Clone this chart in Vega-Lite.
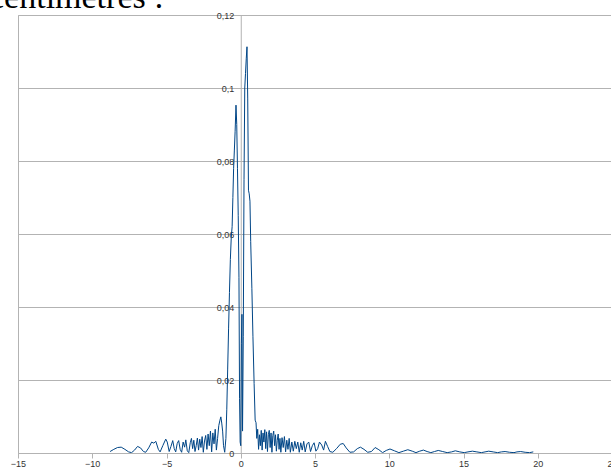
{
  "$schema": "https://vega.github.io/schema/vega-lite/v6.json",
  "width": 594,
  "height": 438,
  "autosize": {"type": "none"},
  "padding": {"left": 18, "top": 15, "right": 0, "bottom": 19},
  "background": "white",
  "title": {"text": "centimètres :", "anchor": "start", "frame": "group", "font": "Liberation Serif", "fontSize": 34, "fontWeight": "normal", "color": "#000000", "baseline": "alphabetic", "dx": -29, "dy": 31, "offset": 0},
  "config": {"view": {"stroke": "#b3b3b3", "strokeWidth": 1}},
  "data": {"values": [
    {"x": -8.80, "y": 0.0004}, {"x": -8.55, "y": 0.0010}, {"x": -8.30, "y": 0.0015}, {"x": -8.05, "y": 0.0016},
    {"x": -7.80, "y": 0.0010}, {"x": -7.55, "y": 0.0003}, {"x": -7.35, "y": 0.0001}, {"x": -7.15, "y": 0.0008},
    {"x": -6.95, "y": 0.0018}, {"x": -6.75, "y": 0.0014}, {"x": -6.55, "y": 0.0004}, {"x": -6.40, "y": 0.0002},
    {"x": -6.20, "y": 0.0014}, {"x": -6.00, "y": 0.0030}, {"x": -5.85, "y": 0.0027}, {"x": -5.72, "y": 0.0032},
    {"x": -5.55, "y": 0.0010}, {"x": -5.43, "y": 0.0003}, {"x": -5.25, "y": 0.0020}, {"x": -5.05, "y": 0.0038},
    {"x": -4.95, "y": 0.0030}, {"x": -4.82, "y": 0.0004}, {"x": -4.70, "y": 0.0018}, {"x": -4.58, "y": 0.0034},
    {"x": -4.48, "y": 0.0012}, {"x": -4.38, "y": 0.0003}, {"x": -4.28, "y": 0.0026}, {"x": -4.18, "y": 0.0034},
    {"x": -4.08, "y": 0.0010}, {"x": -3.98, "y": 0.0002}, {"x": -3.88, "y": 0.0030}, {"x": -3.78, "y": 0.0016},
    {"x": -3.70, "y": 0.0036}, {"x": -3.60, "y": 0.0006}, {"x": -3.50, "y": 0.0001}, {"x": -3.40, "y": 0.0028},
    {"x": -3.32, "y": 0.0040}, {"x": -3.24, "y": 0.0012}, {"x": -3.16, "y": 0.0035}, {"x": -3.08, "y": 0.0004},
    {"x": -3.00, "y": 0.0020}, {"x": -2.92, "y": 0.0041}, {"x": -2.84, "y": 0.0008}, {"x": -2.76, "y": 0.0038},
    {"x": -2.68, "y": 0.0015}, {"x": -2.60, "y": 0.0045}, {"x": -2.52, "y": 0.0002}, {"x": -2.44, "y": 0.0033},
    {"x": -2.36, "y": 0.0048}, {"x": -2.28, "y": 0.0010}, {"x": -2.20, "y": 0.0052}, {"x": -2.12, "y": 0.0020},
    {"x": -2.04, "y": 0.0060}, {"x": -1.96, "y": 0.0003}, {"x": -1.88, "y": 0.0055}, {"x": -1.80, "y": 0.0025},
    {"x": -1.72, "y": 0.0065}, {"x": -1.64, "y": 0.0008}, {"x": -1.56, "y": 0.0040}, {"x": -1.48, "y": 0.0075},
    {"x": -1.40, "y": 0.0090}, {"x": -1.34, "y": 0.0099}, {"x": -1.28, "y": 0.0082}, {"x": -1.22, "y": 0.0060},
    {"x": -1.16, "y": 0.0020}, {"x": -1.08, "y": 0.0002},
    {"x": -1.00, "y": 0.0040}, {"x": -0.94, "y": 0.0120}, {"x": -0.88, "y": 0.0230}, {"x": -0.82, "y": 0.0340},
    {"x": -0.76, "y": 0.0440}, {"x": -0.70, "y": 0.0530}, {"x": -0.64, "y": 0.0590}, {"x": -0.58, "y": 0.0620},
    {"x": -0.53, "y": 0.0700}, {"x": -0.48, "y": 0.0780}, {"x": -0.43, "y": 0.0830}, {"x": -0.38, "y": 0.0880},
    {"x": -0.32, "y": 0.0953}, {"x": -0.27, "y": 0.0900}, {"x": -0.22, "y": 0.0780}, {"x": -0.17, "y": 0.0650},
    {"x": -0.12, "y": 0.0480}, {"x": -0.08, "y": 0.0150}, {"x": -0.04, "y": 0.0030}, {"x": 0.00, "y": 0.0020},
    {"x": 0.04, "y": 0.0300}, {"x": 0.08, "y": 0.0380}, {"x": 0.12, "y": 0.0060}, {"x": 0.17, "y": 0.0320},
    {"x": 0.22, "y": 0.0750}, {"x": 0.27, "y": 0.1000}, {"x": 0.32, "y": 0.1040}, {"x": 0.37, "y": 0.1080},
    {"x": 0.42, "y": 0.1113}, {"x": 0.47, "y": 0.0970}, {"x": 0.52, "y": 0.0720}, {"x": 0.57, "y": 0.0710},
    {"x": 0.62, "y": 0.0690}, {"x": 0.67, "y": 0.0580}, {"x": 0.75, "y": 0.0450}, {"x": 0.82, "y": 0.0320},
    {"x": 0.90, "y": 0.0190}, {"x": 0.97, "y": 0.0090},
    {"x": 1.03, "y": 0.0083}, {"x": 1.08, "y": 0.0040}, {"x": 1.14, "y": 0.0065}, {"x": 1.20, "y": 0.0010},
    {"x": 1.26, "y": 0.0050}, {"x": 1.32, "y": 0.0020}, {"x": 1.38, "y": 0.0062}, {"x": 1.44, "y": 0.0008},
    {"x": 1.50, "y": 0.0055}, {"x": 1.56, "y": 0.0030}, {"x": 1.62, "y": 0.0064}, {"x": 1.68, "y": 0.0012},
    {"x": 1.74, "y": 0.0058}, {"x": 1.80, "y": 0.0004}, {"x": 1.86, "y": 0.0050}, {"x": 1.92, "y": 0.0062},
    {"x": 1.98, "y": 0.0015}, {"x": 2.04, "y": 0.0055}, {"x": 2.10, "y": 0.0002}, {"x": 2.16, "y": 0.0048},
    {"x": 2.22, "y": 0.0060}, {"x": 2.28, "y": 0.0020}, {"x": 2.34, "y": 0.0050}, {"x": 2.40, "y": 0.0005},
    {"x": 2.46, "y": 0.0035}, {"x": 2.52, "y": 0.0052}, {"x": 2.58, "y": 0.0010}, {"x": 2.64, "y": 0.0040},
    {"x": 2.70, "y": 0.0002}, {"x": 2.78, "y": 0.0042}, {"x": 2.86, "y": 0.0015}, {"x": 2.94, "y": 0.0045},
    {"x": 3.02, "y": 0.0003}, {"x": 3.10, "y": 0.0035}, {"x": 3.18, "y": 0.0010}, {"x": 3.26, "y": 0.0040},
    {"x": 3.34, "y": 0.0002}, {"x": 3.44, "y": 0.0030}, {"x": 3.54, "y": 0.0005}, {"x": 3.64, "y": 0.0032},
    {"x": 3.74, "y": 0.0012}, {"x": 3.84, "y": 0.0030}, {"x": 3.94, "y": 0.0002}, {"x": 4.04, "y": 0.0028},
    {"x": 4.14, "y": 0.0008}, {"x": 4.24, "y": 0.0032}, {"x": 4.34, "y": 0.0003}, {"x": 4.46, "y": 0.0025},
    {"x": 4.58, "y": 0.0030}, {"x": 4.70, "y": 0.0004}, {"x": 4.82, "y": 0.0020}, {"x": 4.94, "y": 0.0028},
    {"x": 5.06, "y": 0.0005}, {"x": 5.18, "y": 0.0012}, {"x": 5.30, "y": 0.0030}, {"x": 5.45, "y": 0.0022},
    {"x": 5.58, "y": 0.0008}, {"x": 5.70, "y": 0.0032}, {"x": 5.85, "y": 0.0018}, {"x": 6.00, "y": 0.0004},
    {"x": 6.20, "y": 0.0002}, {"x": 6.45, "y": 0.0012}, {"x": 6.70, "y": 0.0024}, {"x": 6.90, "y": 0.0026},
    {"x": 7.10, "y": 0.0014}, {"x": 7.35, "y": 0.0002}, {"x": 7.60, "y": 0.0003}, {"x": 7.85, "y": 0.0012},
    {"x": 8.06, "y": 0.0016}, {"x": 8.30, "y": 0.0010}, {"x": 8.55, "y": 0.0002}, {"x": 8.80, "y": 0.0004},
    {"x": 9.05, "y": 0.0015}, {"x": 9.30, "y": 0.0009}, {"x": 9.55, "y": 0.0001}, {"x": 9.80, "y": 0.0007},
    {"x": 10.05, "y": 0.0011}, {"x": 10.35, "y": 0.0006}, {"x": 10.65, "y": 0.0001}, {"x": 10.95, "y": 0.0005},
    {"x": 11.25, "y": 0.0009}, {"x": 11.55, "y": 0.0005}, {"x": 11.80, "y": 0.0001}, {"x": 12.05, "y": 0.0005},
    {"x": 12.30, "y": 0.0008}, {"x": 12.55, "y": 0.0004}, {"x": 12.80, "y": 0.0001}, {"x": 13.05, "y": 0.0004},
    {"x": 13.30, "y": 0.0007}, {"x": 13.60, "y": 0.0004}, {"x": 13.90, "y": 0.0001}, {"x": 14.20, "y": 0.0003},
    {"x": 14.45, "y": 0.0006}, {"x": 14.75, "y": 0.0003}, {"x": 15.05, "y": 0.0001}, {"x": 15.30, "y": 0.0003},
    {"x": 15.60, "y": 0.0005}, {"x": 15.90, "y": 0.0003}, {"x": 16.20, "y": 0.0001}, {"x": 16.45, "y": 0.0003},
    {"x": 16.70, "y": 0.0005}, {"x": 17.00, "y": 0.0003}, {"x": 17.30, "y": 0.0001}, {"x": 17.55, "y": 0.0003},
    {"x": 17.80, "y": 0.0004}, {"x": 18.10, "y": 0.0002}, {"x": 18.40, "y": 0.0001}, {"x": 18.60, "y": 0.0003},
    {"x": 18.85, "y": 0.0004}, {"x": 19.15, "y": 0.0002}, {"x": 19.45, "y": 0.0001}, {"x": 19.70, "y": 0.0003}
  ]},
  "mark": {"type": "line", "color": "#004586", "strokeWidth": 1, "interpolate": "linear", "clip": true},
  "encoding": {
    "x": {
      "field": "x", "type": "quantitative",
      "scale": {"domain": [-15, 25], "nice": false, "zero": false},
      "axis": {
        "values": [-15, -10, -5, 0, 5, 10, 15, 20, 25],
        "grid": false, "title": null,
        "domainColor": "#b3b3b3", "tickColor": "#b3b3b3", "tickSize": 5,
        "labelFont": "Liberation Sans", "labelFontSize": 9, "labelColor": "#333333",
        "labelPadding": 1, "labelFlush": false, "labelOverlap": false
      }
    },
    "y": {
      "field": "y", "type": "quantitative",
      "scale": {"domain": [0, 0.12], "nice": false},
      "axis": {
        "values": [0, 0.02, 0.04, 0.06, 0.08, 0.1, 0.12],
        "labelExpr": "replace(format(datum.value, '.2~f'), '.', ',')",
        "offset": -222.75,
        "grid": true, "gridColor": "#b3b3b3", "gridWidth": 1,
        "ticks": false, "title": null,
        "domainColor": "#b3b3b3",
        "labelFont": "Liberation Sans", "labelFontSize": 9, "labelColor": "#333333",
        "labelPadding": 7, "labelOverlap": false
      }
    }
  }
}
